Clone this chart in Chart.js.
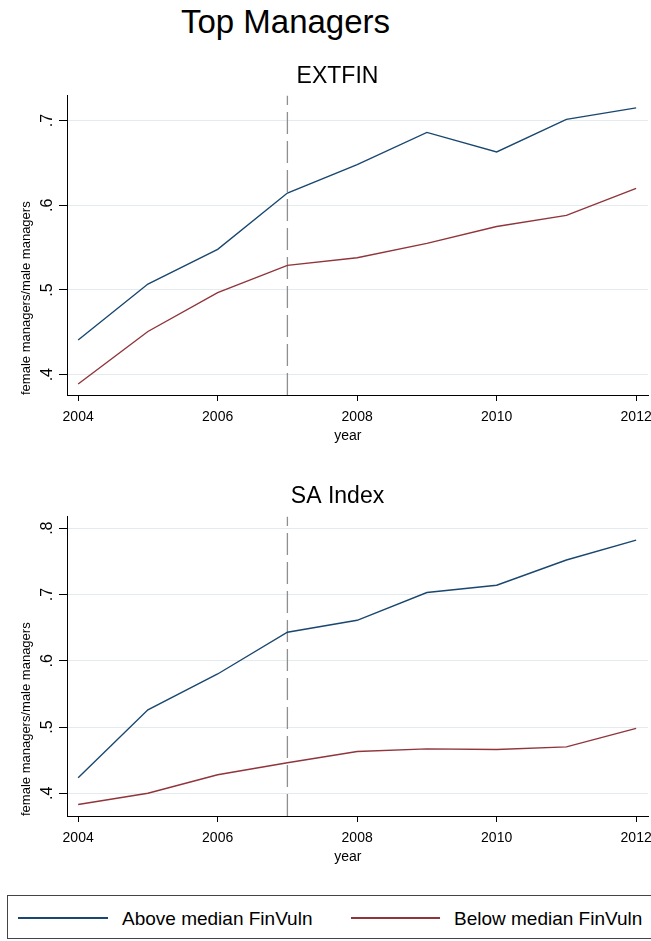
<!DOCTYPE html>
<html>
<head>
<meta charset="utf-8">
<script src="https://cdn.jsdelivr.net/npm/chart.js@4/dist/chart.umd.min.js"></script>
<style>
  html, body { margin: 0; padding: 0; background: #fff; }
  #page { position: relative; width: 651px; height: 941px; overflow: hidden; background: #fff;
          font-family: 'Liberation Sans', Arial, sans-serif; color: #000; }
  #mainTitle { position: absolute; left: 0; width: 571px; top: 5px; text-align: center;
               font-size: 33px; line-height: 33px; }
  canvas { position: absolute; left: 0; }
  #legend { position: absolute; left: 7px; top: 895px; width: 660px; height: 44px;
            border: 1px solid #444; box-sizing: border-box; }
  .swatch { position: absolute; height: 2px; top: 21px; }
  .ltext { position: absolute; top: 13px; font-size: 19px; line-height: 19px; white-space: nowrap; }
</style>
</head>
<body>
<div id="page">
  <div id="mainTitle">Top Managers</div>
  <canvas id="extfin" width="660" height="389" style="top:58px"></canvas>
  <canvas id="saindex" width="660" height="390" style="top:478px"></canvas>
  <div id="legend">
    <div class="swatch" style="left:10px;width:90px;background:#1a476f"></div>
    <div class="ltext" style="left:114px">Above median FinVuln</div>
    <div class="swatch" style="left:343px;width:89px;background:#90353b"></div>
    <div class="ltext" style="left:446px">Below median FinVuln</div>
  </div>
</div>
<script>
// Survey years and tick positions
const years = [2004, 2005, 2006, 2007, 2008, 2009, 2010, 2011, 2012];
const yearTicks = [2004, 2006, 2008, 2010, 2012];
const reformYear = 2007;

// Ratio of female to male top managers, EXTFIN split
const extfinAbove = [0.441, 0.507, 0.548, 0.6145, 0.648, 0.686, 0.663, 0.7015, 0.715];
const extfinBelow = [0.389, 0.451, 0.497, 0.529, 0.538, 0.555, 0.575, 0.588, 0.620];
const extfinTicks = [0.4, 0.5, 0.6, 0.7];

// Ratio of female to male top managers, SA Index split
const saAbove = [0.4235, 0.526, 0.580, 0.643, 0.661, 0.703, 0.714, 0.752, 0.782];
const saBelow = [0.383, 0.400, 0.428, 0.446, 0.463, 0.467, 0.466, 0.470, 0.498];
const saTicks = [0.4, 0.5, 0.6, 0.7, 0.8];

const seriesLabels = ['Above median FinVuln', 'Below median FinVuln'];
const NAVY = '#1a476f', MAROON = '#90353b';
const FONT = "'Liberation Sans', Arial, sans-serif";

Chart.defaults.font.family = FONT;
Chart.defaults.color = '#000';

function points(vals) {
  return years.map((yr, i) => ({ x: yr, y: vals[i] }));
}

function makePanel(id, title, above, below, yMin, yMax, yTicks, titlePad) {
  new Chart(document.getElementById(id), {
    type: 'line',
    data: {
      datasets: [
        { label: seriesLabels[0], data: points(above), borderColor: NAVY, borderWidth: 1.4,
          pointRadius: 0, tension: 0, fill: false },
        { label: seriesLabels[1], data: points(below), borderColor: MAROON, borderWidth: 1.4,
          pointRadius: 0, tension: 0, fill: false },
        { label: 'reform', data: [{ x: reformYear, y: yMin }, { x: reformYear, y: yMax }],
          borderColor: '#8f8f8f', borderWidth: 1.3, borderDash: [22, 7],
          pointRadius: 0, fill: false }
      ]
    },
    options: {
      responsive: false,
      animation: false,
      devicePixelRatio: 1,
      layout: { padding: { left: 27, right: 12, top: 0, bottom: 0 } },
      plugins: {
        legend: { display: false },
        tooltip: { enabled: false },
        title: { display: true, text: title, color: '#000',
                 font: { size: 23, weight: 'normal' },
                 padding: titlePad }
      },
      scales: {
        x: {
          type: 'linear', min: 2003.84, max: 2012.17,
          afterBuildTicks: s => { s.ticks = yearTicks.map(v => ({ value: v })); },
          afterFit: s => { s.height = 52; },
          grid: { display: true, drawOnChartArea: false, drawTicks: true, tickLength: 6,
                  tickColor: '#000', tickWidth: 1 },
          border: { display: true, color: '#000', width: 1 },
          ticks: { padding: 8, font: { size: 14 }, color: '#000', maxRotation: 0,
                   callback: v => String(v) },
          title: { display: true, text: 'year     ', font: { size: 14 }, color: '#000',
                   padding: { top: 0, bottom: 2 } }
        },
        y: {
          type: 'linear', min: yMin, max: yMax,
          afterBuildTicks: s => { s.ticks = yTicks.map(v => ({ value: v })); },
          afterFit: s => { s.width = 40; },
          grid: { display: true, drawOnChartArea: true, color: '#e3ebee', lineWidth: 1,
                  drawTicks: true, tickLength: 8, tickColor: '#000', tickWidth: 1 },
          border: { display: true, color: '#000', width: 1 },
          ticks: { padding: 5, font: { size: 16 }, color: '#000',
                   minRotation: 90, maxRotation: 90, crossAlign: 'center',
                   callback: v => v.toFixed(1).replace(/^0/, '') },
          title: { display: true, text: 'female managers/male managers', align: 'start',
                   font: { size: 13 }, color: '#000', padding: { top: -8, bottom: 0 } }
        }
      }
    }
  });
}

makePanel('extfin', 'EXTFIN', extfinAbove, extfinBelow, 0.376, 0.7295, extfinTicks,
          { top: 5, bottom: 5 });
makePanel('saindex', 'SA Index', saAbove, saBelow, 0.3657, 0.8175, saTicks,
          { top: 5, bottom: 6 });
</script>
</body>
</html>
